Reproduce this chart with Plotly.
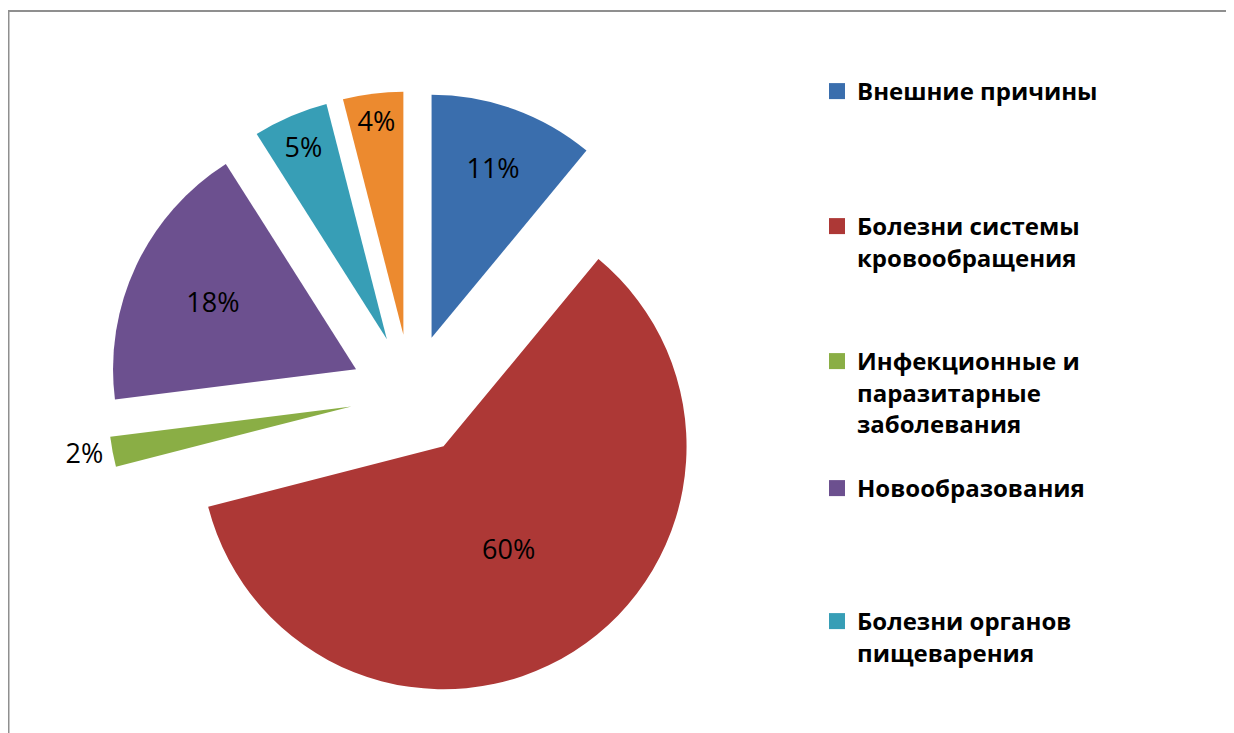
import plotly.graph_objects as go

# ---- data ----
categories = [
    "Внешние причины",
    "Болезни системы кровообращения",
    "Инфекционные и паразитарные заболевания",
    "Новообразования",
    "Болезни органов пищеварения",
    "Прочие",
]
values = [11, 60, 2, 18, 5, 4]
legend_labels = [
    "Внешние причины",
    "Болезни системы<br>кровообращения",
    "Инфекционные и<br>паразитарные<br>заболевания",
    "Новообразования",
    "Болезни органов<br>пищеварения",
]
colors = ["#3A6EAD", "#AD3836", "#8AAE45", "#6C508F", "#379EB6", "#EC8A2F"]
text_positions = ["inside", "inside", "outside", "inside", "inside", "inside"]

# page is offset by the 8px body margin
OFF = 8
W, H = 1234 - OFF, 733 - OFF
cx, cy, r, pull = 411 - OFF, 395 - OFF, 243, 0.25
half = r * (1 + pull)

fig = go.Figure()
fig.add_trace(go.Pie(
    labels=categories,
    values=values,
    sort=False,
    direction="clockwise",
    rotation=0,
    pull=[pull] * len(values),
    marker=dict(colors=colors, line=dict(width=0)),
    texttemplate="%{value}%",
    textposition=text_positions,
    insidetextorientation="horizontal",
    textfont=dict(family="Open Sans", size=27, color="black"),
    insidetextfont=dict(family="Open Sans", size=27, color="black"),
    outsidetextfont=dict(family="Open Sans", size=27, color="black"),
    automargin=False,
    showlegend=False,
    domain=dict(x=[(cx - half) / W, (cx + half) / W],
                y=[(H - cy - half) / H, (H - cy + half) / H]),
))

legend_tops = [69, 204, 339, 466, 599]   # page px, top of each legend box
layout_legends = {}
for i, (lab, col) in enumerate(zip(legend_labels, colors[:5])):
    lname = "legend" if i == 0 else f"legend{i+1}"
    fig.add_trace(go.Scatter(
        x=[None], y=[None], mode="markers",
        marker=dict(symbol="square", size=16, color=col),
        name=lab, legend=lname, showlegend=True, hoverinfo="skip",
    ))
    layout_legends[lname] = dict(
        x=(817 - OFF) / W, y=1 - (legend_tops[i] - OFF) / H,
        xanchor="left", yanchor="top", valign="top",
        bgcolor="rgba(0,0,0,0)", borderwidth=0,
        font=dict(family="Open Sans", size=24, color="black", weight="bold"),
    )

fig.update_layout(
    width=W, height=H,
    margin=dict(l=0, r=0, t=0, b=0, autoexpand=False),
    paper_bgcolor="white", plot_bgcolor="white",
    xaxis=dict(visible=False), yaxis=dict(visible=False),
    uniformtext=dict(minsize=27, mode="show"),
    shapes=[dict(type="rect", xref="paper", yref="paper",
                 x0=0.5 / W, x1=1.05, y0=-0.05, y1=1 - (11 - OFF) / H,
                 line=dict(color="#8f8f8f", width=2), fillcolor="rgba(0,0,0,0)",
                 layer="below")],
    **layout_legends,
)

fig.write_html("out.html")
